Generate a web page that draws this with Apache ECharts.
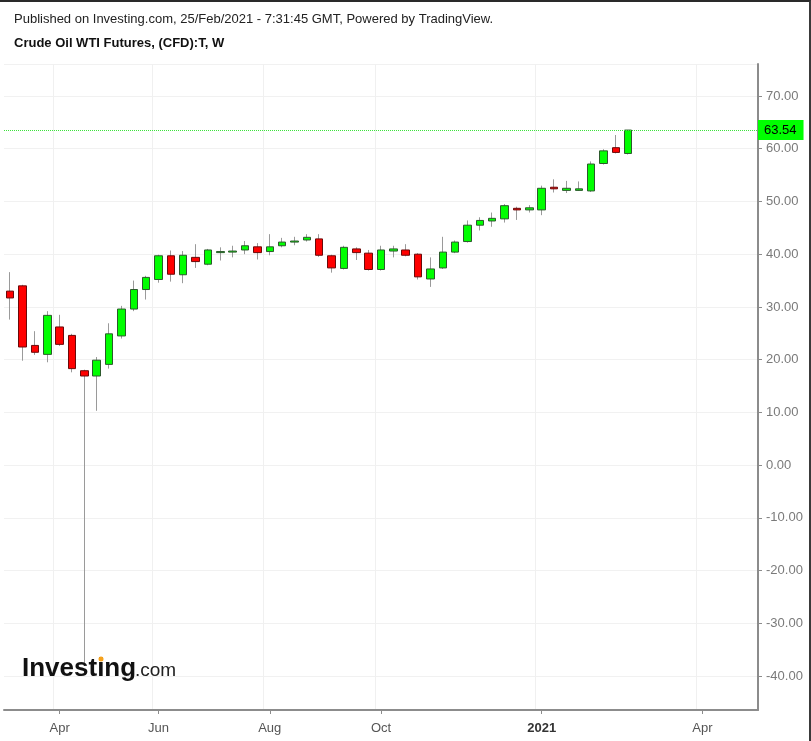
<!DOCTYPE html>
<html><head><meta charset="utf-8">
<script src="https://cdn.jsdelivr.net/npm/echarts@6/dist/echarts.min.js"></script>
<style>
html,body{margin:0;padding:0;background:#fff;}
#chart{position:absolute;left:0;top:0;width:811px;height:741px;}
#frame{position:absolute;left:0;top:0;width:811px;height:741px;box-sizing:border-box;border-top:2px solid #2a2a2a;border-right:2px solid #3a3a3a;pointer-events:none;}
</style></head>
<body>
<div id="chart"></div>
<div id="frame"></div>
<script>
const weeks = [
 '2020-03-09','2020-03-16','2020-03-23','2020-03-30','2020-04-06','2020-04-13','2020-04-20','2020-04-27',
 '2020-05-04','2020-05-11','2020-05-18','2020-05-25','2020-06-01','2020-06-08','2020-06-15','2020-06-22',
 '2020-06-29','2020-07-06','2020-07-13','2020-07-20','2020-07-27','2020-08-03','2020-08-10','2020-08-17',
 '2020-08-24','2020-08-31','2020-09-07','2020-09-14','2020-09-21','2020-09-28','2020-10-05','2020-10-12',
 '2020-10-19','2020-10-26','2020-11-02','2020-11-09','2020-11-16','2020-11-23','2020-11-30','2020-12-07',
 '2020-12-14','2020-12-21','2020-12-28','2021-01-04','2021-01-11','2021-01-18','2021-01-25','2021-02-01',
 '2021-02-08','2021-02-15','2021-02-22',
 '2021-03-01','2021-03-08','2021-03-15','2021-03-22','2021-03-29','2021-04-05','2021-04-12','2021-04-19',
 '2021-04-26','2021-05-03'
];
const opens  = [33.0,34.0,22.7,21.0,26.2,24.6,17.9,16.9,19.1,24.5,29.6,33.3,35.2,39.7,36.1,39.4,38.1,40.3,40.4,40.8,
                41.4,40.5,41.6,42.3,42.7,42.9,39.7,37.3,41.0,40.2,37.1,40.6,40.8,40.0,35.3,37.4,40.4,42.4,45.5,46.3,
                46.7,48.7,48.4,48.4,52.7,52.1,52.1,52.0,57.2,60.2,59.1];
const closes = [31.7,22.4,21.4,28.4,22.9,18.3,16.9,19.9,24.9,29.6,33.3,35.6,39.7,36.2,39.8,38.6,40.8,40.5,40.6,41.6,
                40.3,41.4,42.3,42.5,43.2,39.8,37.4,41.3,40.3,37.1,40.8,41.0,39.8,35.7,37.2,40.4,42.3,45.5,46.4,46.8,
                49.2,48.4,48.8,52.5,52.4,52.5,52.4,57.1,59.6,59.3,63.54];
const lows   = [27.6,19.8,20.9,19.5,22.6,17.6,-37.6,10.3,18.3,24.0,29.2,31.4,34.6,34.8,34.5,37.4,37.9,38.8,39.4,40.0,
                39.0,39.8,41.3,41.7,42.4,39.5,36.5,37.1,38.9,36.9,36.9,39.4,39.6,35.2,33.8,37.2,40.2,42.2,44.5,45.2,
                46.0,46.5,47.9,47.4,51.7,51.6,52.0,51.8,57.0,59.1,58.9];
const highs  = [36.6,34.2,25.4,29.2,28.5,24.9,18.1,20.5,26.9,30.2,35.0,35.9,39.9,40.7,40.6,41.9,41.0,41.3,41.6,42.5,
                42.1,43.8,43.1,43.3,43.8,43.8,39.9,41.6,41.3,40.8,41.6,41.6,41.9,40.2,39.4,43.3,42.6,46.4,47.0,47.9,
                49.5,49.0,49.3,53.0,54.2,53.9,53.8,57.6,59.9,62.6,63.54];
const tickDates = ['2020-04-06','2020-06-01','2020-08-03','2020-10-05','2021-01-04','2021-04-05'];
const tickTexts = ['Apr','Jun','Aug','Oct','2021','Apr'];
const yMin = -46.44, yMax = 76.07;

const lastPrice = closes[closes.length - 1];
const wickData = opens.map((o, i) => [o, closes[i], lows[i], highs[i]]);
const bodyData = opens.map((o, i) => [o, closes[i], Math.min(o, closes[i]), Math.max(o, closes[i])]);
const isTick = (idx) => tickDates.indexOf(weeks[idx]) >= 0;

const chart = echarts.init(document.getElementById('chart'), null, {renderer: 'canvas'});
const FONT = 'Liberation Sans, Arial, sans-serif';
chart.setOption({
  animation: false,
  backgroundColor: '#fff',
  textStyle: {fontFamily: FONT},
  grid: {left: 4, right: 53, top: 64, bottom: 31, containLabel: false},
  xAxis: {
    type: 'category', data: weeks, boundaryGap: true,
    axisLine: {show: true, onZero: false, lineStyle: {color: '#8c8c8c', width: 2}},
    axisTick: {show: true, alignWithLabel: true, interval: (i) => isTick(i), length: 4, lineStyle: {color: '#8c8c8c'}},
    axisLabel: {
      interval: (i) => isTick(i), margin: 12, color: '#555', fontSize: 13, fontFamily: FONT,
      formatter: (v) => { const k = tickDates.indexOf(v); if (k < 0) return ''; const t = tickTexts[k]; return /^\d+$/.test(t) ? '{b|' + t + '}' : t; },
      rich: {b: {fontWeight: 'bold', color: '#333', fontSize: 13, fontFamily: FONT}}
    },
    splitLine: {show: true, interval: (i) => isTick(i), lineStyle: {color: '#f0f0f0', width: 1}}
  },
  yAxis: {
    type: 'value', position: 'right', min: yMin, max: yMax, splitNumber: 12, scale: false,
    axisLine: {show: true, onZero: false, lineStyle: {color: '#8c8c8c', width: 2}},
    axisTick: {show: true, length: 4, lineStyle: {color: '#8c8c8c'}},
    axisLabel: {showMinLabel: false, showMaxLabel: false, margin: 8, color: '#7a7a7a', fontSize: 13, fontFamily: FONT,
      formatter: (v) => v.toFixed(2)},
    splitLine: {show: true, lineStyle: {color: '#f1f1f1', width: 1}}
  },
  series: [
    {
      type: 'candlestick', name: 'wick', data: wickData, barWidth: 1,
      itemStyle: {color: '#9a9a9a', color0: '#9a9a9a', borderColor: '#9a9a9a', borderColor0: '#9a9a9a', borderWidth: 1},
      silent: true, z: 2
    },
    {
      type: 'candlestick', name: 'body', data: bodyData, barWidth: 8,
      itemStyle: {color: '#00ff00', color0: '#ff0000', borderColor: '#2c5a2c', borderColor0: '#6a0a0a', borderWidth: 1},
      silent: true, z: 3,
      markLine: {
        silent: true, symbol: ['none', 'none'], animation: false,
        data: [{yAxis: lastPrice}],
        lineStyle: {type: 'dotted', color: '#3be33b', width: 1},
        label: {position: 'end', distance: 0, formatter: () => lastPrice.toFixed(2), backgroundColor: '#00ff00',
          color: '#000', padding: [4, 7, 3, 6], fontSize: 13, fontFamily: FONT}
      }
    }
  ],
  graphic: [
    {type: 'text', left: 14, top: 13, z: 100, style: {text: 'Published on Investing.com, 25/Feb/2021 - 7:31:45 GMT, Powered by TradingView.', font: '13px ' + FONT, fill: '#222'}},
    {type: 'text', left: 14, top: 37, z: 100, style: {text: 'Crude Oil WTI Futures, (CFD):T, W', font: 'bold 13px ' + FONT, fill: '#111'}},
    {type: 'text', x: 22, y: 682, z: 100, style: {text: 'Investing', font: 'bold 26px ' + FONT, fill: '#111', verticalAlign: 'bottom'}},
    {type: 'text', x: 135, y: 680.5, z: 100, style: {text: '.com', font: '19px ' + FONT, fill: '#222', verticalAlign: 'bottom'}},
    {type: 'circle', z: 101, shape: {cx: 101, cy: 659, r: 2.5}, style: {fill: '#f7a21b'}}
  ]
});
</script>
</body></html>
